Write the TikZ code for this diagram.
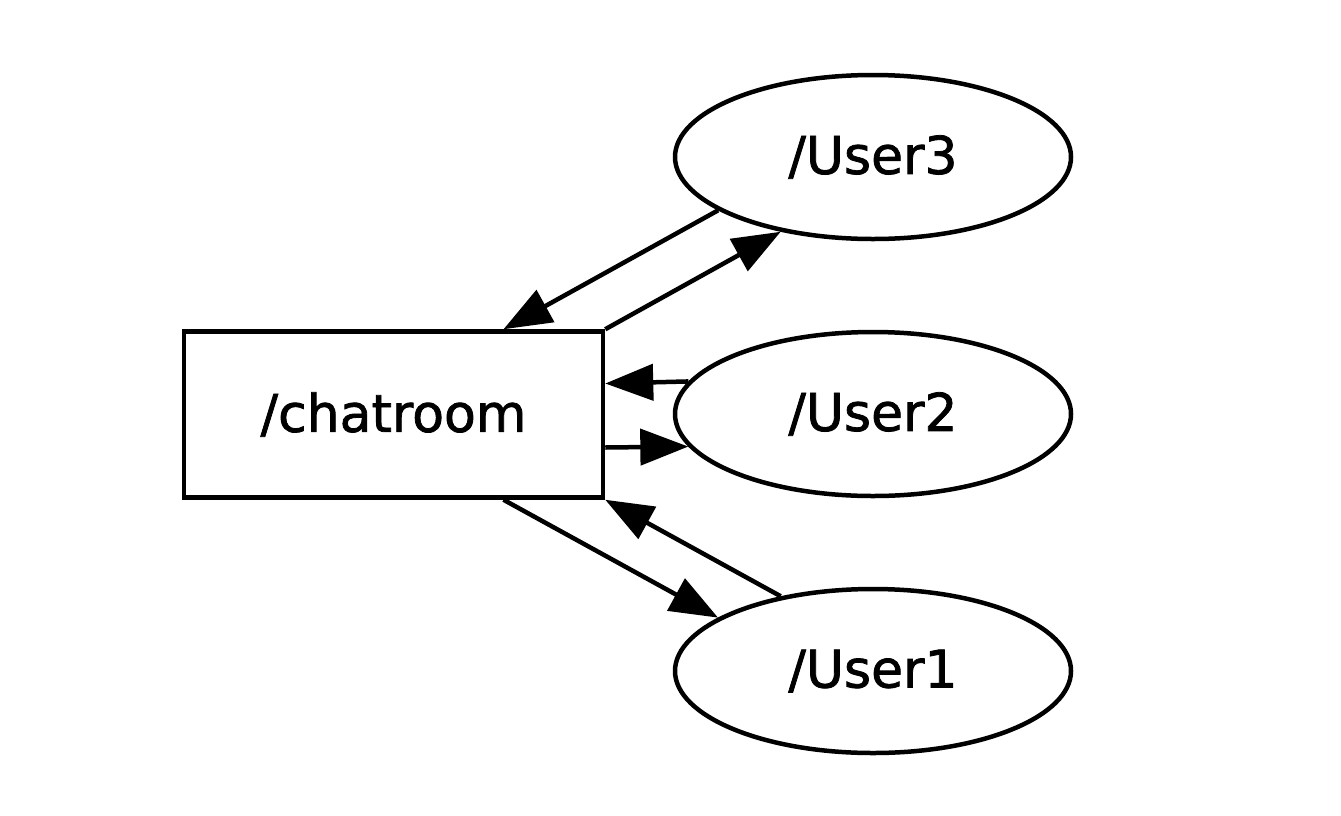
\documentclass[tikz,border=0pt]{standalone}
\usepackage{fontspec}
\newfontfamily\lblfont[FakeBold=1.5]{DejaVu Sans}
\usetikzlibrary{arrows.meta,shapes.geometric}
\begin{document}
\begin{tikzpicture}[x=1pt,y=-1pt,
  every node/.style={line width=4.5pt,draw=black,font=\lblfont\fontsize{52}{60}\selectfont,inner sep=0pt},
  topicbox/.style={rectangle,minimum width=419pt,minimum height=166pt},
  userell/.style={ellipse,minimum width=396pt,minimum height=164pt},
  link/.style={line width=4.5pt,-{Triangle[length=48pt,width=36pt]}}]
\useasboundingbox (0,0) rectangle (1341,815);
\node[topicbox] (c) at (393.5,414.5) {/chatroom};
\node[userell] (u3) at (873,157) {/User3};
\node[userell] (u2) at (873,414) {/User2};
\node[userell] (u1) at (873,671) {/User1};
% chatroom <-> User3
\draw[link] (u3.199) -- ([xshift=110pt]c.north);
\draw[link] (c.north east) -- (u3.219);
% chatroom <-> User2
\draw[link] (u2.170.5) -- ([yshift=31pt]c.east);
\draw[link] ([yshift=-33pt]c.east) -- (u2.190);
% chatroom <-> User1
\draw[link] ([xshift=110pt]c.south) -- (u1.161);
\draw[link] (u1.141.5) -- (c.south east);
\end{tikzpicture}
\end{document}
